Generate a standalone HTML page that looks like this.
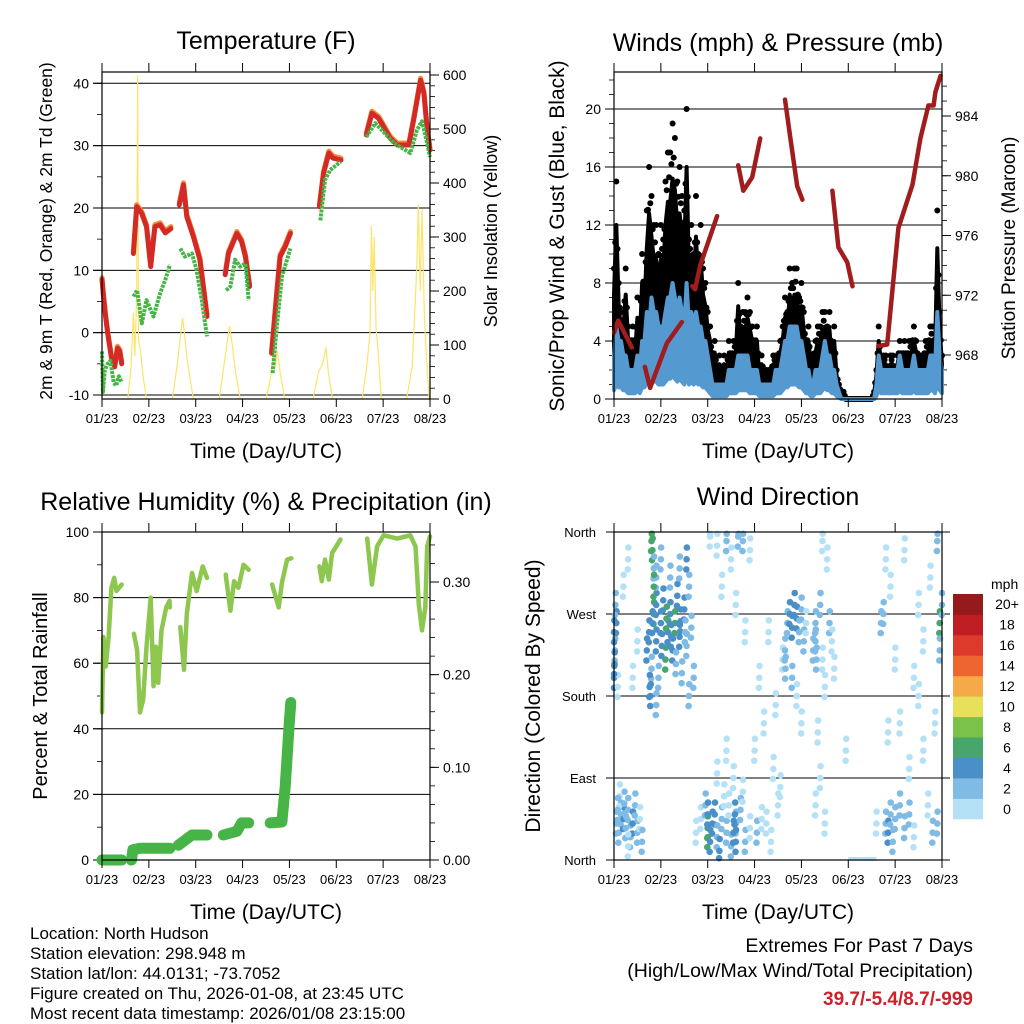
<!DOCTYPE html>
<html><head><meta charset="utf-8"><style>
html,body{margin:0;padding:0;background:#fff;}
svg{display:block;font-family:"Liberation Sans",sans-serif;}
</style></head><body>
<svg id="fig" width="1024" height="1024" viewBox="0 0 1024 1024" xmlns="http://www.w3.org/2000/svg">
<rect x="0" y="0" width="1024" height="1024" fill="#fff"/>
<g id="p1"></g>
<g id="p2"></g>
<g id="p3"></g>
<g id="p4"></g>
<g id="info">
<text x="30" y="939" font-size="17">Location: North Hudson</text>
<text x="30" y="959" font-size="17">Station elevation: 298.948 m</text>
<text x="30" y="979" font-size="17">Station lat/lon: 44.0131; -73.7052</text>
<text x="30" y="999" font-size="17">Figure created on Thu, 2026-01-08, at 23:45 UTC</text>
<text x="30" y="1019" font-size="17">Most recent data timestamp: 2026/01/08 23:15:00</text>
<text x="973" y="952" font-size="19.5" text-anchor="end">Extremes For Past 7 Days</text>
<text x="973" y="977" font-size="19.5" text-anchor="end">(High/Low/Max Wind/Total Precipitation)</text>
<text x="973" y="1005" font-size="19" font-weight="bold" fill="#cc2229" text-anchor="end">39.7/-5.4/8.7/-999</text>
</g>
</svg>
<script>
// ---------- data ----------
const dayLabels = ["01/23","02/23","03/23","04/23","05/23","06/23","07/23","08/23"];
const tempRed = [
 [[0,8.5],[0.03,6],[0.07,3],[0.12,0],[0.2,-4],[0.27,-5.5],[0.33,-2.5],[0.38,-3],[0.42,-5]],
 [[0.67,12.7],[0.74,20.2],[0.85,19.1],[0.95,17],[1.04,10.6],[1.13,17],[1.24,17.3],[1.35,16],[1.47,16.7]],
 [[1.65,20.5],[1.74,23.7],[1.81,18.6],[1.95,15.4],[2.09,11.7],[2.24,2.6]],
 [[2.63,9.3],[2.7,12.7],[2.88,15.9],[2.98,14.6],[3.06,12.2],[3.15,7.4]],
 [[3.62,-3.3],[3.73,6.3],[3.8,12.2],[3.91,13.8],[4.02,15.9]],
 [[4.64,20.2],[4.73,25.6],[4.84,28.8],[4.93,28],[5.1,27.7]],
 [[5.64,31.7],[5.76,35.2],[5.9,34.4],[6.15,31.2],[6.3,30.1],[6.55,30.1],[6.65,34.1],[6.8,40.5],[6.87,38.4],[6.94,32.5],[7,29.3]]
];
const tempDew = [
 [[0,-3],[0.02,-9.5],[0.06,-6],[0.12,-5],[0.18,-4.5],[0.25,-8],[0.3,-8.5],[0.36,-7],[0.42,-8]],
 [[0.67,5.8],[0.75,6.8],[0.85,1.5],[0.95,5.2],[1.1,2.6],[1.24,6.3],[1.35,8.5],[1.45,10.9]],
 [[1.67,13.5],[1.77,12.2],[1.92,12.7],[2.02,10],[2.13,5.2],[2.24,-0.6]],
 [[2.65,6.8],[2.74,7.4],[2.84,11.7],[2.95,10.6],[3.06,11.1],[3.13,5.2]],
 [[3.64,-6.5],[3.73,1],[3.84,9],[4.02,13.5]],
 [[4.66,18],[4.76,24.5],[4.87,26.1],[5.09,27.4]],
 [[5.64,31.4],[5.83,33.6],[6.01,32.2],[6.23,30.4],[6.58,28.8],[6.72,32.5],[6.83,33.9],[6.9,31.7],[7,28.2]]
];
const solar = [
 [[0.55,0],[0.62,60],[0.67,160],[0.7,80],[0.74,190],[0.76,600],[0.78,110],[0.82,90],[0.88,40],[0.95,0]],
 [[1.5,0],[1.6,60],[1.68,120],[1.72,150],[1.76,120],[1.82,70],[1.95,0]],
 [[2.5,0],[2.6,60],[2.68,110],[2.72,135],[2.78,100],[2.85,50],[2.95,0]],
 [[3.5,0],[3.6,40],[3.66,85],[3.7,60],[3.74,90],[3.8,50],[3.9,0]],
 [[4.5,0],[4.62,50],[4.68,60],[4.72,70],[4.78,96],[4.83,50],[4.92,0]],
 [[5.55,0],[5.65,60],[5.72,120],[5.75,320],[5.78,200],[5.81,300],[5.85,130],[5.9,80],[5.96,0]],
 [[6.5,0],[6.62,60],[6.68,170],[6.72,250],[6.75,360],[6.79,200],[6.83,350],[6.88,150],[6.92,80],[6.98,0]]
];
const gust = [9,15,8,6,6,9,5,4,5,4,7,5,10,8,13,16,14,12,12,10,
 12,11,15,17,17,19,18,15,16,14,13,20,11,12,10,14,10,12,9,8,
 6,5,3,4,2,3,2,3,2,4,3,4,4,8,5,6,6,7,6,5,
 4,5,2,3,2,2,2,2,3,3,3,4,5,7,6,9,8,9,9,7,
 8,6,4,5,3,3,4,5,5,6,6,5,6,3,5,2,1,0.5,0.5,0,
 0,0,0,0,0,0,0,0,0,0,0,0.5,2,5,3,3,3,2,3,3,
 2,3,4,3,4,3,4,4,5,4,3,3,3,4,4,5,5,4,13,6,3];
const wind = [3,5,4,4,3,3,2,2,2,2,3,2,4,4,6,5,7,6,6,5,
 5,5,6,7,7,8,7,6,7,6,5,8,5,6,5,6,5,5,4,4,
 3,2,1,1,1,1,1,1,1,2,2,2,2,3,3,3,3,3,2,2,
 2,2,1,1,1,1,1,1,1,2,2,2,3,4,4,5,5,5,5,4,
 4,3,2,2,1,1,2,2,2,3,4,3,3,2,2,1,0.5,0,0,0,
 0,0,0,0,0,0,0,0,0,0,0,0,1,3,2,2,2,2,2,2,
 2,2,3,2,2,2,2,2,3,2,2,2,2,2,2,3,3,2,6,3,2];
const pressure = [
 [[0,969.5],[0.09,970.3],[0.38,968.5]],
 [[0.66,967.2],[0.77,965.8],[1.13,968.8],[1.45,970.2]],
 [[1.67,972.6],[1.73,972.4],[1.84,974],[2.2,977.3]],
 [[2.65,980.7],[2.76,979.0],[2.95,979.9],[3.12,982.5]],
 [[3.65,985.1],[3.76,982.6],[3.91,979.3],[4.02,978.4]],
 [[4.66,979.0],[4.79,975.2],[4.98,974.2],[5.09,972.6]],
 [[5.64,968.6],[5.83,968.7],[6.07,976.5],[6.37,979.4],[6.54,982.5],[6.71,984.7],[6.82,984.7],[6.86,985.6],[6.97,986.7]]
];
const rh = [
 [[0,45],[0.03,68],[0.08,59],[0.14,68],[0.2,83],[0.26,86],[0.31,82],[0.42,84]],
 [[0.68,69],[0.75,64],[0.81,45],[0.88,49],[0.95,65],[1.04,80],[1.1,53],[1.15,65],[1.2,54],[1.27,70],[1.37,77],[1.44,79],[1.45,77]],
 [[1.67,71],[1.75,58],[1.81,75],[1.92,87.5],[2.02,82],[2.15,89.5],[2.24,86]],
 [[2.64,87],[2.74,76],[2.82,85],[2.91,83],[3.02,90],[3.13,88.5]],
 [[3.63,84],[3.77,77],[3.84,84.5],[3.95,91.6],[4.04,92]],
 [[4.64,89.5],[4.69,85],[4.76,91.6],[4.84,85.5],[4.91,93.6],[5.09,97.7]],
 [[5.66,98],[5.76,84],[5.87,95.6],[6.01,99],[6.3,98],[6.58,99],[6.69,95.6],[6.76,78],[6.83,70],[6.9,77],[6.94,95.6],[7,98.7]]
];
const rain = [
 [[0,0],[0.42,0]],
 [[0.63,0],[0.66,0.011],[0.81,0.0126],[1.45,0.0126]],
 [[1.63,0.016],[1.92,0.027],[2.24,0.027]],
 [[2.59,0.027],[2.88,0.031],[2.98,0.04],[3.13,0.04]],
 [[3.59,0.04],[3.84,0.041],[3.91,0.079],[4.0,0.15],[4.03,0.17]]
];
const wdObs = [
 [0.05,40,3],[0.1,30,2],[0.15,50,3],[0.2,45,4],[0.25,35,3],[0.3,55,2],[0.35,25,3],[0.4,40,4],[0.45,60,2],[0.5,30,3],[0.55,45,1],[0.6,20,2],[0.12,70,1],[0.3,15,1],[0.08,55,2],[0.22,62,2],
 [0.0,200,4],[0.02,230,3],[0.05,260,4],[0.03,280,2],[0.08,190,1],[0.4,200,1],[0.5,240,1],[0.3,330,1],[0.2,300,1],[0.0,250,4],[0.01,215,4],
 [0.7,230,4],[0.75,250,5],[0.8,210,3],[0.85,270,6],[0.9,240,4],[0.95,200,3],[1.0,260,5],[1.05,285,4],[1.1,220,6],[1.15,250,5],[1.2,270,4],[1.25,230,5],[1.3,260,6],[1.35,290,5],[1.4,245,4],[1.45,205,3],[1.5,275,4],[1.55,235,3],[1.6,300,2],[1.65,255,3],
 [0.82,260,4],[0.9,280,4],[1.02,235,4],[1.12,265,6],[1.22,245,4],[1.32,215,3],[1.42,262,4],[1.52,250,3],[0.78,180,4],[0.76,190,5],
 [0.8,350,6],[0.82,340,6],[0.85,320,3],[0.9,310,2],[1.0,330,3],[1.2,310,2],[1.4,320,3],[1.6,180,2],[1.7,200,3],[0.9,170,2],[1.55,330,4],[0.85,300,6],
 [1.75,30,1],[1.85,45,1],[1.95,60,2],[2.0,35,6],[2.0,25,7],[2.05,20,5],[2.1,40,4],[2.15,50,4],[2.2,25,3],[2.3,45,3],[2.4,30,2],[2.5,15,3],[2.6,40,2],[2.7,55,3],[2.8,20,2],[2.9,35,1],[2.45,60,1],[2.25,10,4],[2.35,70,1],[2.55,90,1],[2.75,75,1],[2.55,30,4],[2.6,20,4],[2.58,50,4],[2.0,50,4],
 [2.05,355,1],[2.2,345,1],[2.4,350,2],[2.5,330,1],[2.65,355,3],[2.75,350,2],[2.9,340,1],[2.3,300,1],[2.6,280,1],[2.8,250,1],[2.2,95,1],[2.4,120,1],
 [3.0,120,1],[3.1,200,1],[3.2,150,1],[3.3,250,1],[3.4,100,1],[3.5,60,1],[3.05,30,2],[3.15,45,1],[3.45,170,1],[3.55,80,1],[3.25,40,1],[3.35,20,1],
 [3.7,260,3],[3.75,270,4],[3.8,255,5],[3.85,280,4],[3.9,265,5],[3.95,250,3],[4.0,275,2],[4.05,240,3],[4.1,260,1],[3.8,200,2],[3.9,180,1],[4.0,150,1],[3.6,220,1],[3.65,230,2],[3.66,210,2],
 [4.25,230,2],[4.3,260,3],[4.4,280,2],[4.45,220,1],[4.5,190,1],[4.6,260,2],[4.65,240,1],[4.7,210,1],[4.3,60,1],[4.4,90,1],[4.5,40,1],[4.35,140,1],[4.55,330,1],[4.45,350,1],[4.3,240,2],[4.32,220,2],
 [5.0,0,0],[5.1,0,0],[5.2,0,0],[5.3,0,0],[5.4,0,0],[5.5,0,0],[4.95,120,1],[5.6,40,1],
 [5.7,260,2],[5.75,270,3],[5.8,40,3],[5.85,30,4],[5.9,50,3],[5.95,20,2],[6.0,45,3],[6.1,60,2],[6.2,35,3],[6.3,50,2],[6.4,25,1],[5.8,330,1],[5.9,300,1],[6.0,220,1],[6.1,150,1],[6.2,340,1],[6.3,100,1],[6.4,200,1],[6.5,280,1],[6.6,120,1],[6.7,60,1],[6.8,30,2],[6.9,350,2],[6.95,260,6],[7.0,280,3],[6.5,180,1],[6.6,240,1],[6.75,310,1],[6.85,150,1],[5.85,140,1],[6.9,40,2],[6.95,230,3]
];
const speedBins = ["0","2","4","6","8","10","12","14","16","18","20+"];
const binColors = ["#b5e1f7","#7fbbe4","#4a8fc8","#48a56c","#7bc24a","#e6e05a","#f5a947","#ee6530","#dd3a2b","#c01d23","#951a1c"];

// ---------- helpers ----------
const NS="http://www.w3.org/2000/svg";
function mk(parent,tag,attrs,text){const e=document.createElementNS(NS,tag);for(const k in attrs)e.setAttribute(k,attrs[k]);if(text!==undefined)e.textContent=text;parent.appendChild(e);return e;}
function lin(d0,d1,r0,r1){return v=>r0+(v-d0)/(d1-d0)*(r1-r0);}
function pathOf(seg,sx,sy){return seg.map((p,i)=>(i?'L':'M')+sx(p[0]).toFixed(1)+','+sy(p[1]).toFixed(1)).join('');}

function frame(g,L,R,T,B,sx){
  const bx=mk(g,'rect',{x:L,y:T,width:R-L,height:B-T,fill:'none',stroke:'#000','stroke-width':1.2});
  
  
  for(let i=0;i<dayLabels.length;i++){
    const x=sx(i);
    mk(g,'line',{x1:x,y1:T,x2:x,y2:T-9,stroke:'#000','stroke-width':1});
    mk(g,'line',{x1:x,y1:B,x2:x,y2:B+8,stroke:'#000','stroke-width':1});
    const t=mk(g,'text',{x:x,y:B+24,'font-size':13,'text-anchor':'middle'},dayLabels[i]);
    
    
  }
  const xt=mk(g,'text',{x:(L+R)/2,y:B+59,'font-size':21,'text-anchor':'middle'},'Time (Day/UTC)');
  
  
}
function leftAxis(g,L,R,sy,majors,minorStep,lo,hi,fmt,grid){
  for(let v=lo;v<=hi+1e-9;v+=minorStep){const y=sy(v);mk(g,'line',{x1:L,y1:y,x2:L-5,y2:y,stroke:'#000','stroke-width':0.8});}
  majors.forEach(v=>{const y=sy(v);
    mk(g,'line',{x1:L,y1:y,x2:L-9,y2:y,stroke:'#000','stroke-width':1});
    if(grid)mk(g,'line',{x1:L-9,y1:y,x2:R,y2:y,stroke:'#000','stroke-width':1});
    const t=mk(g,'text',{x:L-13,y:y+5,'font-size':14,'text-anchor':'end'},fmt(v));
    
    
  });
}
function rightAxis(g,R,sy,majors,minorStep,lo,hi,fmt){
  for(let v=lo;v<=hi+1e-9;v+=minorStep){const y=sy(v);mk(g,'line',{x1:R,y1:y,x2:R+5,y2:y,stroke:'#000','stroke-width':0.8});}
  majors.forEach(v=>{const y=sy(v);
    mk(g,'line',{x1:R,y1:y,x2:R+9,y2:y,stroke:'#000','stroke-width':1});
    const t=mk(g,'text',{x:R+13,y:y+5,'font-size':14},fmt(v));
    
    
  });
}
function title(g,x,y,s,name){const t=mk(g,'text',{x:x,y:y,'font-size':25,'text-anchor':'middle'},s);}
function vtitle(g,x,y,s,size,name){const t=mk(g,'text',{x:x,y:y,'font-size':size,'text-anchor':'middle',transform:`rotate(-90 ${x} ${y})`},s);}

// ---------- Panel 1 ----------
(function(){
  const g=document.getElementById('p1');
  const L=102,R=430,T=72,B=399;
  const sx=lin(0,7,L,R), sy=lin(-10,40,395,83.3), ss=lin(0,600,399,75);
  leftAxis(g,L,R,sy,[-10,0,10,20,30,40],5,-10,40,v=>String(v),true);
  rightAxis(g,R,ss,[0,100,200,300,400,500,600],20,0,600,v=>String(v));
  solar.forEach(seg=>{const p=mk(g,'path',{d:pathOf(seg,sx,ss),fill:'none',stroke:'#fde36a','stroke-width':1.2});
    
    });
  tempRed.forEach(seg=>{const p=mk(g,'path',{d:pathOf(seg,sx,v=>sy(v)-2),fill:'none',stroke:'#f58a3a','stroke-width':5,'stroke-linejoin':'round','stroke-linecap':'round'});
    
    });
  tempRed.forEach(seg=>{const p=mk(g,'path',{d:pathOf(seg,sx,sy),fill:'none',stroke:'#d42a26','stroke-width':5,'stroke-linejoin':'round','stroke-linecap':'round'});
    
    });
  tempDew.forEach(seg=>{const p=mk(g,'path',{d:pathOf(seg,sx,sy),fill:'none',stroke:'#46b446','stroke-width':4,'stroke-dasharray':'3 1','stroke-linejoin':'round'});
    
    });
  frame(g,L,R,T,B,sx);
  title(g,266,49,'Temperature (F)','temperature-title');
  vtitle(g,52,231,'2m & 9m T (Red, Orange) & 2m Td (Green)',17.5,'temperature-y-title');
  vtitle(g,497,231,'Solar Insolation (Yellow)',18,'solar-y-title');
})();

// ---------- Panel 2 ----------
(function(){
  const g=document.getElementById('p2');
  const L=614,R=942,T=72,B=399;
  const sx=lin(0,7,L,R), sy=lin(0,20,399,109), sp=lin(968,984,355,116);
  leftAxis(g,L,R,sy,[0,4,8,12,16,20],1,0,22,v=>String(v),true);
  rightAxis(g,R,sp,[968,972,976,980,984],1,966,986,v=>String(v));
  const step=0.05;
  let top='',bot=[];
  gust.forEach((v,i)=>{const d=Math.min(i*step,7);top+=(i?'L':'M')+sx(d).toFixed(1)+','+sy(v*0.8).toFixed(1);bot.unshift('L'+sx(d).toFixed(1)+','+sy(wind[i]).toFixed(1));});
  const cloud=mk(g,'path',{d:top+bot.join('')+'Z',fill:'#000',stroke:'#000','stroke-width':4,'stroke-linejoin':'round'});
  
  
  gust.forEach((v,i)=>{const d=Math.min(i*step,7);
    const c=mk(g,'circle',{cx:sx(d).toFixed(1),cy:sy(v).toFixed(1),r:3,fill:'#000'});
    
    
    if(i<gust.length-1){const c2=mk(g,'circle',{cx:sx(d+step/2).toFixed(1),cy:sy((v+gust[i+1])/2*0.9).toFixed(1),r:3,fill:'#000'});
      
      }
  });
  let wt='',wb=[];
  wind.forEach((w,i)=>{const d=Math.min(i*step,7);wt+=(i?'L':'M')+sx(d).toFixed(1)+','+sy(w).toFixed(1);wb.unshift('L'+sx(d).toFixed(1)+','+sy(Math.max(0,w*0.2)).toFixed(1));});
  const band=mk(g,'path',{d:wt+wb.join('')+'Z',fill:'#5499d0',stroke:'#5499d0','stroke-width':4,'stroke-linejoin':'round'});
  
  
  pressure.forEach(seg=>{const p=mk(g,'path',{d:pathOf(seg,sx,sp),fill:'none',stroke:'#a11d1d','stroke-width':4.5,'stroke-linejoin':'round','stroke-linecap':'round'});
    
    });
  frame(g,L,R,T,B,sx);
  title(g,778,51,'Winds (mph) & Pressure (mb)','winds-title');
  vtitle(g,564,236,'Sonic/Prop Wind & Gust (Blue, Black)',21,'wind-y-title');
  vtitle(g,1015,248,'Station Pressure (Maroon)',19,'pressure-y-title');
})();

// ---------- Panel 3 ----------
(function(){
  const g=document.getElementById('p3');
  const L=102,R=430,T=532,B=860;
  const sx=lin(0,7,L,R), sy=lin(0,100,860,532), sr=lin(0,0.3,860,582);
  leftAxis(g,L,R,sy,[0,20,40,60,80,100],10,0,100,v=>String(v),true);
  rightAxis(g,R,sr,[0,0.1,0.2,0.3],0.02,0,0.34,v=>v.toFixed(2));
  rh.forEach(seg=>{const p=mk(g,'path',{d:pathOf(seg,sx,sy),fill:'none',stroke:'#8dc74f','stroke-width':4.5,'stroke-linejoin':'round','stroke-linecap':'round'});
    
    });
  rain.forEach(seg=>{const p=mk(g,'path',{d:pathOf(seg,sx,sr),fill:'none',stroke:'#46b446','stroke-width':11,'stroke-linejoin':'round','stroke-linecap':'round'});
    
    });
  frame(g,L,R,T,B,sx);
  title(g,266,510,'Relative Humidity (%) & Precipitation (in)','humidity-title');
  vtitle(g,47,696,'Percent & Total Rainfall',20,'humidity-y-title');
})();

// ---------- Panel 4 ----------
(function(){
  const g=document.getElementById('p4');
  const L=614,R=942,T=532,B=860;
  const sx=lin(0,7,L,R), sy=lin(0,360,860,532);
  const dirNames=['North','East','South','West','North'];
  [0,90,180,270,360].forEach((v,i)=>{const y=sy(v);
    mk(g,'line',{x1:L-8,y1:y,x2:R+8,y2:y,stroke:'#000','stroke-width':1});
    const t=mk(g,'text',{x:L-18,y:y+5,'font-size':13,'text-anchor':'end'},dirNames[i]);
    
    });
  const offs=[[0,0],[0.006,13],[-0.008,-11]];
  wdObs.forEach(o=>{
    const bin=Math.min(10,Math.floor(o[2]/2));
    if(o[2]===0){const l=mk(g,'line',{x1:sx(o[0]),y1:B-1,x2:sx(o[0]+0.1),y2:B-1,stroke:binColors[0],'stroke-width':4});
      
      return;}
    offs.forEach(of=>{
      const c=mk(g,'circle',{cx:sx(Math.max(0,Math.min(7,o[0]+of[0]))).toFixed(1),cy:sy(Math.max(2,Math.min(358,o[1]+of[1]))).toFixed(1),r:3.3,fill:binColors[bin]});
      
      
    });
  });
  frame(g,L,R,T,B,sx);
  const lg=mk(g,'g',{});
  
  
  const lt=mk(lg,'text',{x:991,y:589,'font-size':14,'text-anchor':'start'},'mph');
  
  
  const bh=(819-594)/speedBins.length;
  for(let i=0;i<speedBins.length;i++){
    const y=819-(i+1)*bh;
    const r=mk(lg,'rect',{x:953,y:y.toFixed(1),width:30,height:(bh+0.3).toFixed(1),fill:binColors[i]});
    
    
    const t=mk(lg,'text',{x:1007,y:(y+bh/2+5).toFixed(1),'font-size':14,'text-anchor':'middle'},speedBins[i]);
    
    
  }
  title(g,778,505,'Wind Direction','wind-direction-title');
  vtitle(g,540,696,'Direction (Colored By Speed)',21,'direction-y-title');
})();
</script>
</body></html>
